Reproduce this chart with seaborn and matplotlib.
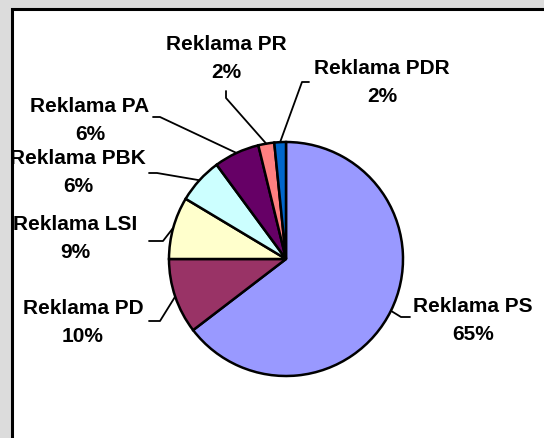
import numpy as np
import pandas as pd
import matplotlib.pyplot as plt
import matplotlib.patches as mpatches
import seaborn as sns

#### Data (clockwise from 12 o'clock)
categories = ['Reklama PS', 'Reklama PD', 'Reklama LSI', 'Reklama PBK',
              'Reklama PA', 'Reklama PR', 'Reklama PDR']
shares = [64.6, 10.4, 8.6, 6.3, 6.3, 2.2, 1.6]
slice_colors = ['#9999FF', '#993366', '#FFFFCC', '#CCFFFF', '#660066', '#FF8080', '#0066CC']

df = pd.DataFrame({'category': categories, 'share': shares})

#### Layout (pixel positions, measured from top-left of the 544x439 image)
W, H = 544, 439
pie_center = (286, 260)
pie_radius = 117
label_pos = [(473, 321), (83, 322), (75, 238), (78, 173), (90, 120), (226, 58), (382, 82)]
leader_elbow = [[(401, 318), (410, 318)],
                [(160, 322), (149, 322)],
                [(163, 242), (149, 242)],
                [(157, 174), (149, 174)],
                [(160, 118), (153, 118)],
                [(226, 99), (226, 92)],
                [(302, 83), (309, 83)]]

sns.set_theme(style='white')
plt.rcParams['font.family'] = ['Liberation Sans', 'DejaVu Sans']

fig = plt.figure(figsize=(W / 100, H / 100), dpi=100)
fig.patch.set_facecolor('#DCDCDC')

ax = fig.add_axes([0, 0, 1, 1])

#### white chart area with black frame, running off the right and bottom
frame = mpatches.Rectangle((12, -20), W + 40, H - 10 + 20, facecolor='white',
                           edgecolor='black', linewidth=2.2, zorder=0)
ax.add_patch(frame)

cx, cy = pie_center[0], H - pie_center[1]
wedges, _ = ax.pie(df['share'], colors=sns.color_palette(slice_colors), startangle=90,
                   counterclock=False, center=(cx, cy), radius=pie_radius, frame=True,
                   wedgeprops=dict(edgecolor='black', linewidth=1.8))
ax.set_xlim(0, W)
ax.set_ylim(0, H)
ax.set_aspect('equal')
ax.axis('off')

total = df['share'].sum()
for w, name, val, (lx, ly), elbow in zip(wedges, df['category'], df['share'], label_pos, leader_elbow):
    mid = np.deg2rad((w.theta1 + w.theta2) / 2)
    px = cx + pie_radius * np.cos(mid)
    py = cy + pie_radius * np.sin(mid)
    xs = [px] + [e[0] for e in elbow]
    ys = [py] + [H - e[1] for e in elbow]
    ax.plot(xs, ys, color='black', linewidth=1.3, zorder=3)
    ax.text(lx, H - ly, f"{name}\n{round(val / total * 100):.0f}%", ha='center', va='center',
            fontsize=15, fontweight='bold', linespacing=1.6, color='black', zorder=4)

plt.savefig('out.png', dpi=100, facecolor=fig.get_facecolor())
